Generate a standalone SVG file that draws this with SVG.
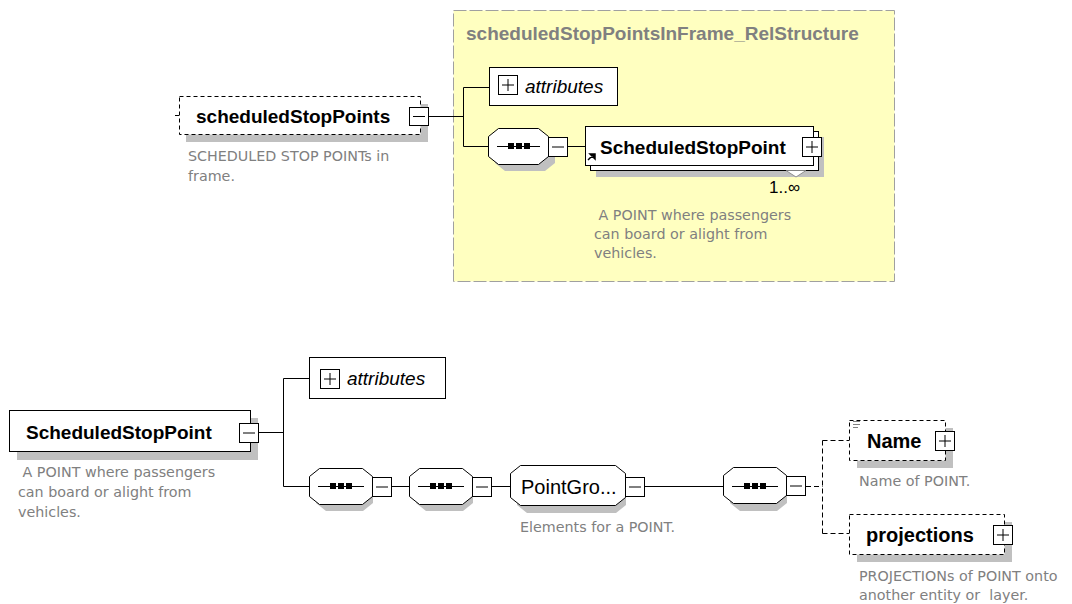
<svg xmlns="http://www.w3.org/2000/svg" width="1072" height="604" viewBox="0 0 1072 604">
<defs>
<style>
.lbl{font-family:"Liberation Sans",Arial,sans-serif;font-size:19px;font-weight:bold;fill:#000}
.lbl2{font-family:"Liberation Sans",Arial,sans-serif;font-size:20px;font-weight:bold;fill:#000}
.lbln{font-family:"Liberation Sans",Arial,sans-serif;font-size:20px;fill:#000}
.ital{font-family:"Liberation Sans",Arial,sans-serif;font-size:19px;font-style:italic;fill:#000}
.desc{font-family:"DejaVu Sans","Liberation Sans",sans-serif;font-size:14.3px;fill:#808080;white-space:pre}
.title{font-family:"Liberation Sans",Arial,sans-serif;font-size:19px;font-weight:bold;fill:#808080}
.box{fill:#fff;stroke:#000;stroke-width:1}
.dbox{fill:#fff;stroke:#000;stroke-width:1;stroke-dasharray:4,3}
.shadow{fill:#c0c0c0}
.btn{fill:#fff;stroke:#000;stroke-width:1}
.sign{stroke:#000;stroke-width:1;fill:none}
.conn{stroke:#000;stroke-width:1;fill:none}
.dconn{stroke:#000;stroke-width:1;fill:none;stroke-dasharray:5,3}
.oct{fill:#fff;stroke:#000;stroke-width:1}
</style>
</defs>
<rect width="1072" height="604" fill="#fff"/>

<g id="frame">
<rect x="453.5" y="10.5" width="441" height="271" fill="#ffffc0" stroke="#a0a0a0" stroke-dasharray="13,3"/>
<text class="title" x="466" y="40">scheduledStopPointsInFrame_RelStructure</text>
</g>

<g id="connectors">
<path class="conn" d="M429,116.5 H463.5 M463.5,87.5 V146.5 M463.5,87.5 H489 M463.5,146.5 H488"/>
<path class="conn" d="M567,146.5 H585"/>
<path class="conn" d="M258,432.5 H283.5 M283.5,378.5 V486.5 M283.5,378.5 H309 M283.5,486.5 H309"/>
<path class="conn" d="M392,486.5 H409 M492,486.5 H510 M645,486.5 H724"/>
<path class="dconn" d="M806,486.5 H822.5 M822.5,440.5 V533.5 M822.5,440.5 H849 M822.5,533.5 H849"/>
</g>

<g id="scheduledStopPoints">
<rect class="shadow" x="186" y="104" width="242" height="38"/>
<rect class="dbox" x="179.5" y="96.5" width="241" height="38"/>
<path class="conn" d="M175,115.5 H179"/>
<text class="lbl" x="196" y="123">scheduledStopPoints</text>
<rect class="btn" x="409.5" y="107.5" width="19" height="18"/>
<path class="sign" d="M413,116.5 H425"/>
<text class="desc" x="188" y="161">SCHEDULED STOP POINTs in</text>
<text class="desc" x="188" y="181">frame.</text>
</g>

<g id="attributesTop">
<rect class="box" x="489.5" y="67.5" width="128" height="38"/>
<rect class="btn" x="498.5" y="75.5" width="19" height="19"/>
<path class="sign" d="M502,85 H514 M508,79 V91"/>
<text class="ital" x="525" y="93">attributes</text>
</g>

<g id="seqTop">
<path class="shadow" d="M505,135 L545,135 L555,143 L555,163 L545,171 L505,171 L495,163 L495,143 Z"/>
<path class="oct" d="M498.5,128.5 L538.5,128.5 L548.5,136.5 L548.5,156.5 L538.5,164.5 L498.5,164.5 L488.5,156.5 L488.5,136.5 Z"/>
<path class="conn" d="M497,146.5 H540"/>
<rect x="508" y="143" width="6" height="6" fill="#000"/>
<rect x="516" y="143" width="6" height="6" fill="#000"/>
<rect x="524" y="143" width="6" height="6" fill="#000"/>
<rect class="btn" x="548.5" y="137.5" width="19" height="19"/>
<path class="sign" d="M552,147 H564"/>
</g>

<g id="ScheduledStopPointTop">
<rect class="shadow" x="596" y="137" width="228" height="40"/>
<rect class="box" x="590.5" y="131.5" width="228" height="39"/>
<rect class="box" x="585.5" y="126.5" width="228" height="39"/>
<path d="M786,170.5 L796,177 L806,170.5" fill="#fff" stroke="#909090"/>
<text class="lbl" x="600" y="154">ScheduledStopPoint</text>
<path d="M588,160 L593,155 M590,154 L595,154 L595,159 Z" stroke="#000" stroke-width="1.5" fill="#000"/>
<rect class="btn" x="802.5" y="137.5" width="19" height="19"/>
<path class="sign" d="M806,147 H818 M812,141 V153"/>
<text font-family="Liberation Sans,Arial,sans-serif" font-size="17" x="769" y="193" fill="#000">1..∞</text>
<text class="desc" x="594" y="220"> A POINT where passengers</text>
<text class="desc" x="594" y="239">can board or alight from</text>
<text class="desc" x="594" y="258">vehicles.</text>
</g>

<g id="ScheduledStopPoint">
<rect class="shadow" x="17" y="418" width="241" height="42"/>
<rect class="box" x="9.5" y="410.5" width="241" height="41"/>
<text class="lbl" x="26" y="439">ScheduledStopPoint</text>
<rect class="btn" x="239.5" y="423.5" width="19" height="19"/>
<path class="sign" d="M243,433 H255"/>
<text class="desc" x="18" y="477"> A POINT where passengers</text>
<text class="desc" x="18" y="497">can board or alight from</text>
<text class="desc" x="18" y="517">vehicles.</text>
</g>

<g id="attributesBottom">
<rect class="box" x="309.5" y="357.5" width="136" height="41"/>
<rect class="btn" x="320.5" y="369.5" width="19" height="19"/>
<path class="sign" d="M324,379 H336 M330,373 V385"/>
<text class="ital" x="347" y="385">attributes</text>
</g>

<g id="seq1">
<path class="shadow" d="M326,475 L363,475 L373,483 L373,503 L363,511 L326,511 L316,503 L316,483 Z"/>
<path class="oct" d="M319.5,468.5 L362.5,468.5 L372.5,476.5 L372.5,496.5 L362.5,504.5 L319.5,504.5 L309.5,496.5 L309.5,476.5 Z"/>
<path class="conn" d="M318,486.5 H364"/>
<rect x="330" y="483" width="6" height="6" fill="#000"/>
<rect x="338" y="483" width="6" height="6" fill="#000"/>
<rect x="346" y="483" width="6" height="6" fill="#000"/>
<rect class="btn" x="372.5" y="477.5" width="19" height="19"/>
<path class="sign" d="M376,487 H388"/>
</g>

<g id="seq2">
<path class="shadow" d="M426,475 L463,475 L473,483 L473,503 L463,511 L426,511 L416,503 L416,483 Z"/>
<path class="oct" d="M419.5,468.5 L462.5,468.5 L472.5,476.5 L472.5,496.5 L462.5,504.5 L419.5,504.5 L409.5,496.5 L409.5,476.5 Z"/>
<path class="conn" d="M418,486.5 H464"/>
<rect x="430" y="483" width="6" height="6" fill="#000"/>
<rect x="438" y="483" width="6" height="6" fill="#000"/>
<rect x="446" y="483" width="6" height="6" fill="#000"/>
<rect class="btn" x="472.5" y="477.5" width="19" height="19"/>
<path class="sign" d="M476,487 H488"/>
</g>

<g id="PointGroup">
<path class="shadow" d="M527,473 L616,473 L626,481 L626,505 L616,513 L527,513 L517,505 L517,481 Z"/>
<path class="oct" d="M520.5,465.5 L615.5,465.5 L625.5,473.5 L625.5,497.5 L615.5,505.5 L520.5,505.5 L510.5,497.5 L510.5,473.5 Z"/>
<text class="lbln" x="521" y="494">PointGro...</text>
<rect class="btn" x="625.5" y="477.5" width="19" height="19"/>
<path class="sign" d="M629,487 H641"/>
<text class="desc" x="520" y="532">Elements for a POINT.</text>
</g>

<g id="seq3">
<path class="shadow" d="M740,475 L777,475 L787,483 L787,503 L777,511 L740,511 L730,503 L730,483 Z"/>
<path class="oct" d="M733.5,467.5 L776.5,467.5 L786.5,475.5 L786.5,495.5 L776.5,503.5 L733.5,503.5 L723.5,495.5 L723.5,475.5 Z"/>
<path class="conn" d="M732,486.5 H778"/>
<rect x="744" y="483" width="6" height="6" fill="#000"/>
<rect x="752" y="483" width="6" height="6" fill="#000"/>
<rect x="760" y="483" width="6" height="6" fill="#000"/>
<rect class="btn" x="786.5" y="476.5" width="19" height="19"/>
<path class="sign" d="M790,486 H802"/>
</g>

<g id="Name">
<rect class="shadow" x="857" y="428" width="96" height="40"/>
<rect class="dbox" x="849.5" y="420.5" width="96" height="40"/>
<path d="M853,421.5 H860 M853,424.5 H860 M853,427.5 H858" stroke="#808080" stroke-width="1"/>
<text class="lbl2" x="867" y="448">Name</text>
<rect class="btn" x="935.5" y="431.5" width="19" height="19"/>
<path class="sign" d="M939,441 H951 M945,435 V447"/>
<text class="desc" x="859" y="486">Name of POINT.</text>
</g>

<g id="projections">
<rect class="shadow" x="857" y="522" width="155" height="40"/>
<rect class="dbox" x="849.5" y="514.5" width="155" height="40"/>
<text class="lbl2" x="866" y="542">projections</text>
<rect class="btn" x="993.5" y="525.5" width="19" height="19"/>
<path class="sign" d="M997,535 H1009 M1003,529 V541"/>
<text class="desc" x="859" y="581">PROJECTIONs of POINT onto</text>
<text class="desc" x="859" y="600">another entity or  layer.</text>
</g>
</svg>
